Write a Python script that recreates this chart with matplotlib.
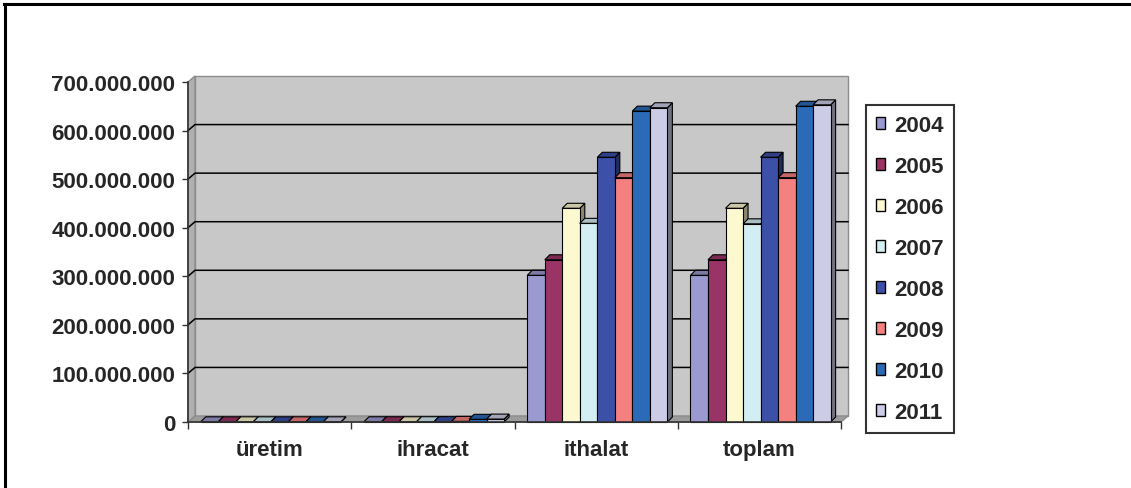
import matplotlib.pyplot as plt
from matplotlib.patches import Polygon, Patch
from matplotlib.lines import Line2D
from matplotlib.ticker import FuncFormatter

# ---- data (values in units) ----
categories = ['üretim', 'ihracat', 'ithalat', 'toplam']
years = ['2004', '2005', '2006', '2007', '2008', '2009', '2010', '2011']
uretim = [4e5, 4e5, 4e5, 4e5, 4e5, 4e5, 4e5, 4e5]
ihracat = [5e5, 5e5, 5e5, 6e5, 8e5, 1.2e6, 5.5e6, 6.0e6]
ithalat = [302e6, 334e6, 440e6, 409e6, 545e6, 503e6, 640e6, 647e6]
toplam = [302e6, 334e6, 440e6, 408e6, 545e6, 503e6, 650e6, 653e6]
yticks = [0, 1e8, 2e8, 3e8, 4e8, 5e8, 6e8, 7e8]

colors = ['#9a9ad0', '#9b3466', '#fcf8d0', '#d2eef2',
          '#3b50a6', '#f58080', '#2b6ab6', '#cccce6']

series_by_cat = [uretim, ihracat, ithalat, toplam]

W, H = 1131, 489
fig = plt.figure(figsize=(W / 100, H / 100), dpi=100)
fig.patch.set_facecolor('white')

# front plane of the 3d box in pixel units
ax = fig.add_axes([188 / W, (H - 423) / H, 653 / W, 340 / H])
ax.set_xlim(0, 4)
ax.set_ylim(0, 7e8)
ax.patch.set_visible(False)

sx = 4 / 653.0          # data per pixel (x)
sy = 7e8 / 340.0        # data per pixel (y)
wdx, wdy = 7 * sx, 6 * sy   # wall depth
bdx, bdy = 5 * sx, 5 * sy   # bar depth

def shade(c, f):
    r, g, b = [int(c[i:i + 2], 16) for i in (1, 3, 5)]
    return (r * f / 255, g * f / 255, b * f / 255)

# walls
back = Polygon([(wdx, wdy), (4 + wdx, wdy), (4 + wdx, 7e8 + wdy), (wdx, 7e8 + wdy)],
               closed=True, facecolor='#c8c8c8', edgecolor='#8c8c8c', lw=1,
               clip_on=False, zorder=0)
side = Polygon([(0, 0), (wdx, wdy), (wdx, 7e8 + wdy), (0, 7e8)],
               closed=True, facecolor='#b0b0b0', edgecolor='#8c8c8c', lw=1,
               clip_on=False, zorder=0.1)
floor = Polygon([(0, 0), (4, 0), (4 + wdx, wdy), (wdx, wdy)],
                closed=True, facecolor='#9c9c9c', edgecolor='#8c8c8c', lw=1,
                clip_on=False, zorder=0.1)
for p in (back, side, floor):
    ax.add_patch(p)

# gridlines running over the side wall and the back wall
for v in yticks[1:-1]:
    ax.plot([0, wdx, 4 + wdx], [v, v + wdy, v + wdy], color='black', lw=1.1,
            clip_on=False, zorder=0.5)

# 3d-looking columns
bw = 0.1073
start = 0.078
z = 2
for c, vals in enumerate(series_by_cat):
    for i, v in enumerate(vals):
        x0 = c + start + i * bw
        col = colors[i]
        sidef = Polygon([(x0 + bw, 0), (x0 + bw + bdx, bdy), (x0 + bw + bdx, v + bdy), (x0 + bw, v)],
                        closed=True, facecolor=shade(col, 0.55), edgecolor='black',
                        lw=0.8, clip_on=False, zorder=z)
        topf = Polygon([(x0, v), (x0 + bw, v), (x0 + bw + bdx, v + bdy), (x0 + bdx, v + bdy)],
                       closed=True, facecolor=shade(col, 0.8), edgecolor='black',
                       lw=0.8, clip_on=False, zorder=z)
        ax.add_patch(sidef)
        ax.add_patch(topf)
        ax.bar(x0, v, width=bw, align='edge', color=col, edgecolor='black',
               linewidth=0.8, zorder=z + 0.01, clip_on=False)
        z += 0.1

# axes
for s in ('top', 'right'):
    ax.spines[s].set_visible(False)
for s in ('left', 'bottom'):
    ax.spines[s].set_color('#333333')
    ax.spines[s].set_linewidth(1.2)
    ax.spines[s].set_zorder(10)

ax.set_yticks(yticks)
ax.yaxis.set_major_formatter(FuncFormatter(lambda v, p: f'{int(v):,}'.replace(',', '.')))
ax.tick_params(axis='y', direction='out', length=4, width=1, color='#333333', pad=5)
ax.set_xticks([0, 1, 2, 3, 4])
ax.set_xticklabels([])
ax.set_xticks([0.5, 1.5, 2.5, 3.5], minor=True)
ax.set_xticklabels(categories, minor=True)
ax.tick_params(axis='x', which='major', direction='out', length=5, width=1, color='#333333')
ax.tick_params(axis='x', which='minor', length=0, pad=12)

font = dict(family='Liberation Sans', weight='bold', size=16)
for lab in ax.get_yticklabels() + ax.get_xticklabels(minor=True):
    lab.set_fontproperties(font)
    lab.set_color('#262626')

handles = [Patch(facecolor=c, edgecolor='black', lw=1) for c in colors]
leg = fig.legend(handles, years, loc='upper left',
                 bbox_to_anchor=(866 / W, 1 - 106 / H),
                 prop=font, frameon=True, fancybox=False,
                 handlelength=0.42, handleheight=0.42, handletextpad=0.4,
                 labelspacing=0.9, borderpad=0.45, borderaxespad=0)
leg.get_frame().set_edgecolor('black')
leg.get_frame().set_linewidth(1.5)
for t in leg.get_texts():
    t.set_color('#262626')

# outer frame (top and left)
fig.add_artist(Line2D([4 / W, 1], [1 - 4.5 / H, 1 - 4.5 / H], color='black', lw=2.2))
fig.add_artist(Line2D([5 / W, 5 / W], [0, 1 - 4.5 / H], color='black', lw=2.2))

fig.savefig('out.png', dpi=100)
